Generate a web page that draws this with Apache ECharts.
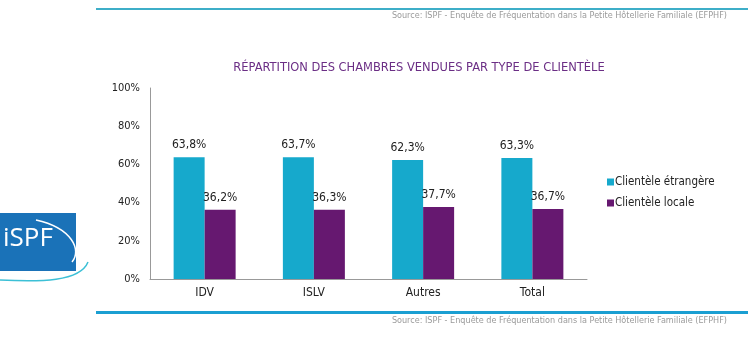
<!DOCTYPE html>
<html><head><meta charset="utf-8">
<script src="https://cdn.jsdelivr.net/npm/echarts@6/dist/echarts.min.js"></script>
<style>html,body{margin:0;padding:0;background:#fff}#c{width:748px;height:359px}</style>
</head><body><div id="c"></div>
<script>
const categories = ['IDV', 'ISLV', 'Autres', 'Total'];
const etrangere = [63.8, 63.7, 62.3, 63.3];
const locale = [36.2, 36.3, 37.7, 36.7];
const seriesNames = ['Clientèle étrangère', 'Clientèle locale'];
const yTicks = [0, 20, 40, 60, 80, 100];
const titleText = 'RÉPARTITION DES CHAMBRES VENDUES PAR TYPE DE CLIENTÈLE';
const sourceText = 'Source: ISPF - Enquête de Fréquentation dans la Petite Hôtellerie Familiale (EFPHF)';

const fmt = v => v.toFixed(1).replace('.', ',') + '%';
const font = '"DejaVu Sans Condensed", "Open Sans", sans-serif';
const chart = echarts.init(document.getElementById('c'));
chart.setOption({
  animation: false,
  title: {
    text: titleText, left: 414, top: 56, textAlign: 'center',
    textStyle: { color: '#6b2e85', fontSize: 12.75, fontWeight: 'normal', fontFamily: font }
  },
  legend: {
    orient: 'vertical', left: 602, top: 171, itemWidth: 7, itemHeight: 7, itemGap: 9,
    icon: 'rect',
    textStyle: { color: '#222', fontSize: 11.5, fontFamily: font, padding: [0, 0, 0, -4] }
  },
  grid: { left: 150, right: 161, top: 88, bottom: 80 },
  xAxis: {
    type: 'category', data: categories,
    axisLine: { lineStyle: { color: '#999' } }, axisTick: { show: false },
    axisLabel: { color: '#222', fontSize: 12, fontFamily: font, margin: 8 }
  },
  yAxis: {
    type: 'value', min: 0, max: 100, interval: 20,
    axisLine: { show: true, lineStyle: { color: '#999' } }, axisTick: { show: false },
    splitLine: { show: false },
    axisLabel: { color: '#222', fontSize: 11, fontFamily: font, margin: 10,
      formatter: v => yTicks.includes(v) ? v + '%' : '' }
  },
  series: [
    { name: seriesNames[0], type: 'bar', data: etrangere, barWidth: 31, barGap: '0%',
      itemStyle: { color: '#16a9cc' },
      label: { show: true, position: 'top', distance: 6, color: '#222', fontSize: 12, fontFamily: font, formatter: p => fmt(p.value) } },
    { name: seriesNames[1], type: 'bar', data: locale, barWidth: 31,
      itemStyle: { color: '#661870' },
      label: { show: true, position: 'top', distance: 6, color: '#222', fontSize: 12, fontFamily: font, formatter: p => fmt(p.value) } }
  ],
  graphic: [
    { type: 'rect', shape: { x: 96, y: 8, width: 652, height: 2 }, style: { fill: '#3eaec8' } },
    { type: 'text', right: 21, top: 11, style: { text: sourceText, fill: '#9a9a9a', fontSize: 9, fontFamily: font } },
    { type: 'rect', shape: { x: 96, y: 311, width: 652, height: 3 }, style: { fill: '#1b9fd2' } },
    { type: 'text', right: 21, top: 316, style: { text: sourceText, fill: '#9a9a9a', fontSize: 9, fontFamily: font } },
    { type: 'rect', shape: { x: 0, y: 213, width: 76, height: 58 }, style: { fill: '#1a72b8' } },
    { type: 'text', left: 3, top: 226, style: { text: 'iSPF', fill: '#fff', fontSize: 26, fontFamily: '"Open Sans", sans-serif' } },
    { type: 'bezierCurve', shape: { x1: 36, y1: 220, x2: 72, y2: 262, cpx1: 72, cpy1: 228, cpx2: 82, cpy2: 250 }, style: { stroke: '#fff', lineWidth: 1.5, fill: null } },
    { type: 'bezierCurve', shape: { x1: 0, y1: 280, x2: 88, y2: 262, cpx1: 40, cpy1: 282, cpx2: 80, cpy2: 282 }, style: { stroke: '#3cc0d6', lineWidth: 1.5, fill: null } }
  ]
});
</script></body></html>
